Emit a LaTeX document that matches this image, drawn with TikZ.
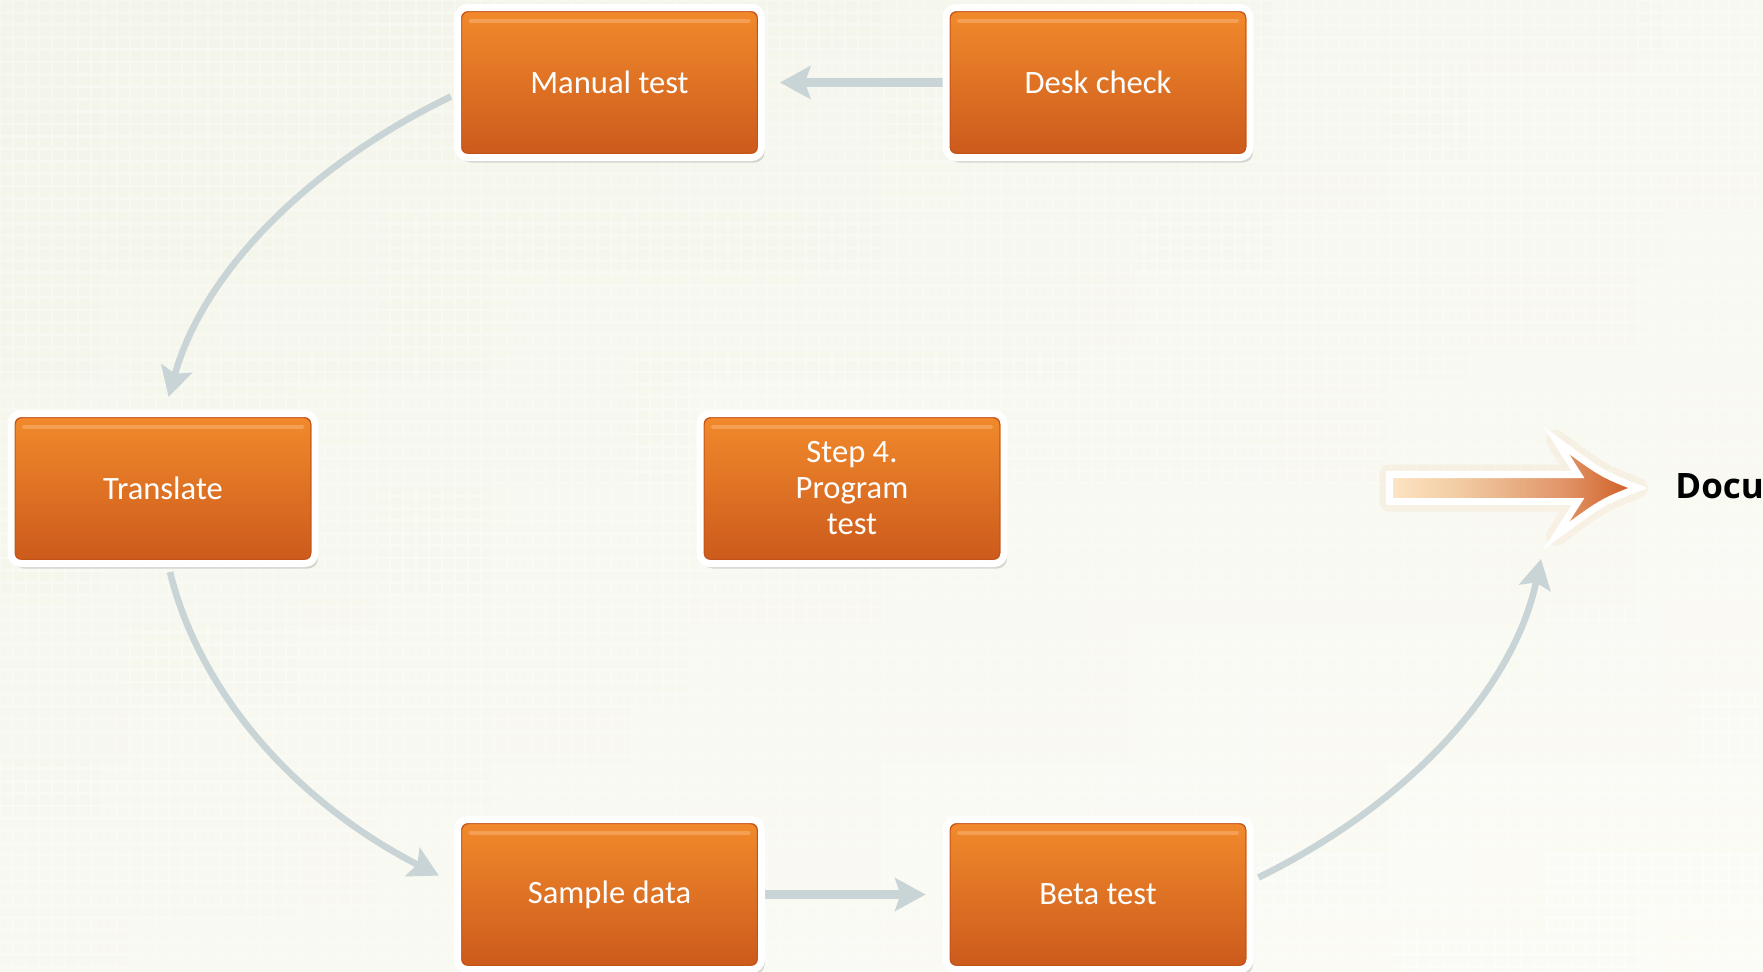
\documentclass[tikz,border=0pt]{standalone}
\usepackage{fontspec}
\newfontfamily\boxfont{Carlito}
\newfontfamily\docfont{Open Sans}
\usetikzlibrary{arrows.meta,calc,shadows}
\definecolor{bgA}{HTML}{F3F5EA}
\definecolor{bgB}{HTML}{FCFCF6}
\definecolor{boxTop}{HTML}{F28B2C}
\definecolor{boxBot}{HTML}{CB591C}
\definecolor{boxRim}{HTML}{C4531A}
\definecolor{boxHi}{HTML}{F7AA66}
\definecolor{connC}{HTML}{C9D4D7}
\definecolor{pkA}{HTML}{FDE5C4}
\definecolor{pkB}{HTML}{F1C9A0}
\definecolor{pkC}{HTML}{E19468}
\definecolor{pkD}{HTML}{CF5A20}
\pgfdeclarehorizontalshading{docshade}{100bp}{color(0bp)=(pkA); color(25bp)=(pkA); color(40bp)=(pkB); color(60bp)=(pkC); color(75bp)=(pkD); color(100bp)=(pkD)}
\pgfdeclarelayer{bg}
\pgfdeclarelayer{links}
\pgfsetlayers{bg,links,main}
\begin{document}
\begin{tikzpicture}[x=0.5pt,y=0.5pt,
  stepbox/.style={rectangle, rounded corners=5pt, minimum width=152pt,
    minimum height=75pt, draw=white, line width=3.5pt,
    top color=boxTop, bottom color=boxBot, text=white, align=center,
    inner sep=0pt, font=\boxfont\fontsize{16.3}{18}\selectfont,
    drop shadow={shadow xshift=1.5pt, shadow yshift=-2.5pt, opacity=0.2, fill=black!70},
    path picture={
      \draw[boxRim, line width=0.7pt, rounded corners=3.5pt]
        ([shift={(4,-4)}]path picture bounding box.north west) rectangle
        ([shift={(-4,4)}]path picture bounding box.south east);
      \draw[boxHi, line width=2pt, line cap=round, opacity=0.7]
        ([shift={(13,-13)}]path picture bounding box.north west) --
        ([shift={(-13,-13)}]path picture bounding box.north east);
    }},
  sconn/.style={draw=connC, line width=4.5pt,
    -{Stealth[length=15.5pt, width=17pt, inset=3pt, line width=0pt]}},
  cconn/.style={draw=connC, line width=3.3pt,
    -{Stealth[length=15pt, width=16.5pt, inset=3pt, line width=0pt]}},
  doctext/.style={font=\docfont\bfseries\fontsize{17.5}{20}\selectfont,
    text=black, anchor=base west, inner sep=0pt}
]
\useasboundingbox (0,0) rectangle (1763,-971);

% nodes
\node[stepbox] (mt) at (609.5,-82.5) {Manual test};
\node[stepbox] (dc) at (1098,-82.5) {Desk check};
\node[stepbox] (tr) at (163,-488.5) {Translate};
\node[stepbox] (st) at (852,-488.5) {Step 4.\\Program\\test};
\node[stepbox] (sd) at (609.5,-894.5) {Sample data};
\node[stepbox] (bt) at (1098,-894.5) {Beta test};
\node[doctext] (doc) at (1675,-498) {Docu};

% background
\begin{pgfonlayer}{bg}
  \shade[left color=bgA, right color=bgB] (0,0) rectangle (1763,-971);
  \shade[top color=bgA, bottom color=bgB, opacity=0.5] (0,0) rectangle (1763,-971);
  \draw[white, line width=1.4pt, opacity=0.3, xstep=6.5pt, ystep=6.2pt] (0,0) grid (1763,-971);
\end{pgfonlayer}

% connectors
\begin{pgfonlayer}{links}
  \draw[sconn, shorten >=7.5pt] (dc.west) -- (mt.east);
  \draw[sconn, shorten >=8.5pt] (sd.east) -- (bt.west);
  \draw[cconn] ($(mt.west)+(-3,-14)$) arc[start angle=125, end angle=169, x radius=692, y radius=478];
  \draw[cconn] ($(tr.south)+(7,-5)$) arc[start angle=189.6, end angle=233.3, x radius=692, y radius=478];
  \draw[cconn] ($(bt.east)+(5,17)$) arc[start angle=305.5, end angle=351.5, x radius=692, y radius=478];

  % big output arrow
  \path[draw=pkB, line width=10pt, opacity=0.18, line join=round]
    (1389.5,-474.5) -- (1578,-474.5) -- (1556,-440)
    .. controls (1602,-474) .. (1638,-488)
    .. controls (1602,-502) .. (1556,-536)
    -- (1578,-501.5) -- (1389.5,-501.5) -- cycle;
  \path[shade, shading=docshade, draw=white, line width=3.5pt, line join=miter]
    (1389.5,-474.5) -- (1578,-474.5) -- (1556,-440)
    .. controls (1602,-474) .. (1638,-488)
    .. controls (1602,-502) .. (1556,-536)
    -- (1578,-501.5) -- (1389.5,-501.5) -- cycle;
\end{pgfonlayer}
\end{tikzpicture}
\end{document}
